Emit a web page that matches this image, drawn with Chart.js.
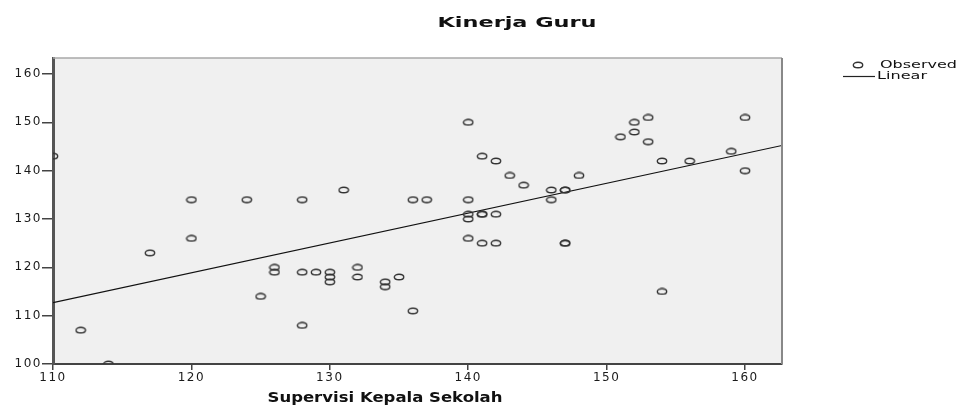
<!DOCTYPE html>
<html>
<head>
<meta charset="utf-8">
<script src="https://cdn.jsdelivr.net/npm/chart.js@4.4.1/dist/chart.umd.min.js"></script>
<style>
  html, body { margin: 0; padding: 0; background: #fff; }
  canvas { display: block; }
</style>
</head>
<body>
<canvas id="chart" width="962" height="405"></canvas>
<script>
// Supervisi Kepala Sekolah (x) vs Kinerja Guru (y)
const supervisi = [110, 112, 114, 117, 120, 120, 124, 125, 126, 126, 128, 128, 128, 129, 130, 130, 130, 131, 132, 132,
                   134, 134, 135, 136, 136, 137, 140, 140, 140, 140, 140, 141, 141, 141, 141, 142, 142, 142, 143, 144,
                   146, 146, 147, 147, 147, 147, 148, 151, 152, 152, 153, 153, 154, 154, 156, 159, 160, 160];
const kinerja   = [143, 107, 100, 123, 126, 134, 134, 114, 120, 119, 134, 119, 108, 119, 119, 118, 117, 136, 120, 118,
                   117, 116, 118, 134, 111, 134, 150, 134, 131, 130, 126, 143, 131, 131, 125, 142, 131, 125, 139, 137,
                   136, 134, 136, 136, 125, 125, 139, 147, 150, 148, 151, 146, 142, 115, 142, 144, 151, 140];

// fitted line end points (as drawn)
const fitX = [110, 162.67];
const fitY = [112.7, 145.2];

const xTicks = [110, 120, 130, 140, 150, 160];
const yTicks = [100, 110, 120, 130, 140, 150, 160];

const observed = supervisi.map((x, i) => ({ x: x, y: kinerja[i] }));
const linear = fitX.map((x, i) => ({ x: x, y: fitY[i] }));

// open ellipse marker like SPSS
function makeMarker() {
    const c = document.createElement('canvas');
    c.width = 12;
    c.height = 8;
    const g = c.getContext('2d');
    g.strokeStyle = '#333';
    g.lineWidth = 1.4;
    g.beginPath();
    g.ellipse(6, 4, 4.7, 2.8, 0, 0, Math.PI * 2);
    g.stroke();
    return c;
}
const marker = makeMarker();

function stretchText(ctx, text, cx, cy, font, targetW) {
    ctx.save();
    ctx.font = font;
    ctx.letterSpacing = '0px';
    const w = ctx.measureText(text).width;
    ctx.translate(cx, cy);
    ctx.scale(targetW / w, 1);
    ctx.textAlign = 'center';
    ctx.textBaseline = 'middle';
    ctx.fillStyle = '#111';
    ctx.fillText(text, 0, 0);
    ctx.restore();
}

const decor = {
    id: 'decor',
    beforeDraw(chart) {
        const { ctx, chartArea: a } = chart;
        ctx.save();
        ctx.fillStyle = '#f0f0f0';
        ctx.fillRect(a.left, a.top, a.right - a.left, a.bottom - a.top);
        ctx.restore();
        ctx.letterSpacing = '1.5px';
    },
    afterDraw(chart) {
        const { ctx, chartArea: a } = chart;
        ctx.letterSpacing = '0px';

        // top and right frame
        ctx.save();
        ctx.strokeStyle = '#a8a8a8';
        ctx.lineWidth = 1.5;
        ctx.beginPath();
        ctx.moveTo(a.left, a.top);
        ctx.lineTo(a.right, a.top);
        ctx.stroke();
        ctx.strokeStyle = '#888';
        ctx.lineWidth = 2;
        ctx.beginPath();
        ctx.moveTo(a.right, a.top);
        ctx.lineTo(a.right, a.bottom);
        ctx.stroke();
        ctx.restore();

        stretchText(ctx, 'Kinerja Guru', 517, 23, 'bold 14px "DejaVu Sans"', 159);
        stretchText(ctx, 'Supervisi Kepala Sekolah', 385, 398, 'bold 14px "DejaVu Sans"', 235);

        // legend
        ctx.drawImage(marker, 858 - 6, 65 - 4);
        stretchText(ctx, 'Observed', 880 + 38.5, 65, '11px "DejaVu Sans"', 77);
        ctx.save();
        ctx.strokeStyle = '#222';
        ctx.lineWidth = 1.2;
        ctx.beginPath();
        ctx.moveTo(843, 76.5);
        ctx.lineTo(875, 76.5);
        ctx.stroke();
        ctx.restore();
        stretchText(ctx, 'Linear', 877 + 25, 76, '11px "DejaVu Sans"', 50);
    }
};

new Chart(document.getElementById('chart'), {
    type: 'scatter',
    data: {
        datasets: [
            {
                label: 'Observed',
                data: observed,
                pointStyle: marker,
                pointRadius: 5,
                clip: 0
            },
            {
                label: 'Linear',
                data: linear,
                showLine: true,
                borderColor: '#111',
                borderWidth: 1.2,
                pointRadius: 0,
                clip: 0
            }
        ]
    },
    options: {
        responsive: false,
        animation: false,
        events: [],
        layout: { padding: { top: 58, right: 180, bottom: 0, left: 0 } },
        plugins: {
            legend: { display: false },
            tooltip: { enabled: false },
            title: { display: false }
        },
        scales: {
            x: {
                type: 'linear',
                min: 110,
                max: 162.67,
                afterBuildTicks: s => { s.ticks = xTicks.map(v => ({ value: v })); },
                afterFit: s => { s.height = 41; },
                border: { display: true, color: '#444', width: 2 },
                grid: { drawOnChartArea: false, drawTicks: true, tickLength: 6, color: '#444', lineWidth: 1.5 },
                ticks: {
                    padding: 1,
                    maxRotation: 0,
                    color: '#1a1a1a',
                    font: { family: '"DejaVu Sans"', size: 12 }
                }
            },
            y: {
                type: 'linear',
                min: 100,
                max: 163.3,
                afterBuildTicks: s => { s.ticks = yTicks.map(v => ({ value: v })); },
                afterFit: s => { s.width = 53; },
                border: { display: true, color: '#555', width: 3 },
                grid: { drawOnChartArea: false, drawTicks: true, tickLength: 11, color: '#444', lineWidth: 1.5 },
                ticks: {
                    padding: 0,
                    color: '#1a1a1a',
                    font: { family: '"DejaVu Sans"', size: 12 }
                }
            }
        }
    },
    plugins: [decor]
});
</script>
</body>
</html>
